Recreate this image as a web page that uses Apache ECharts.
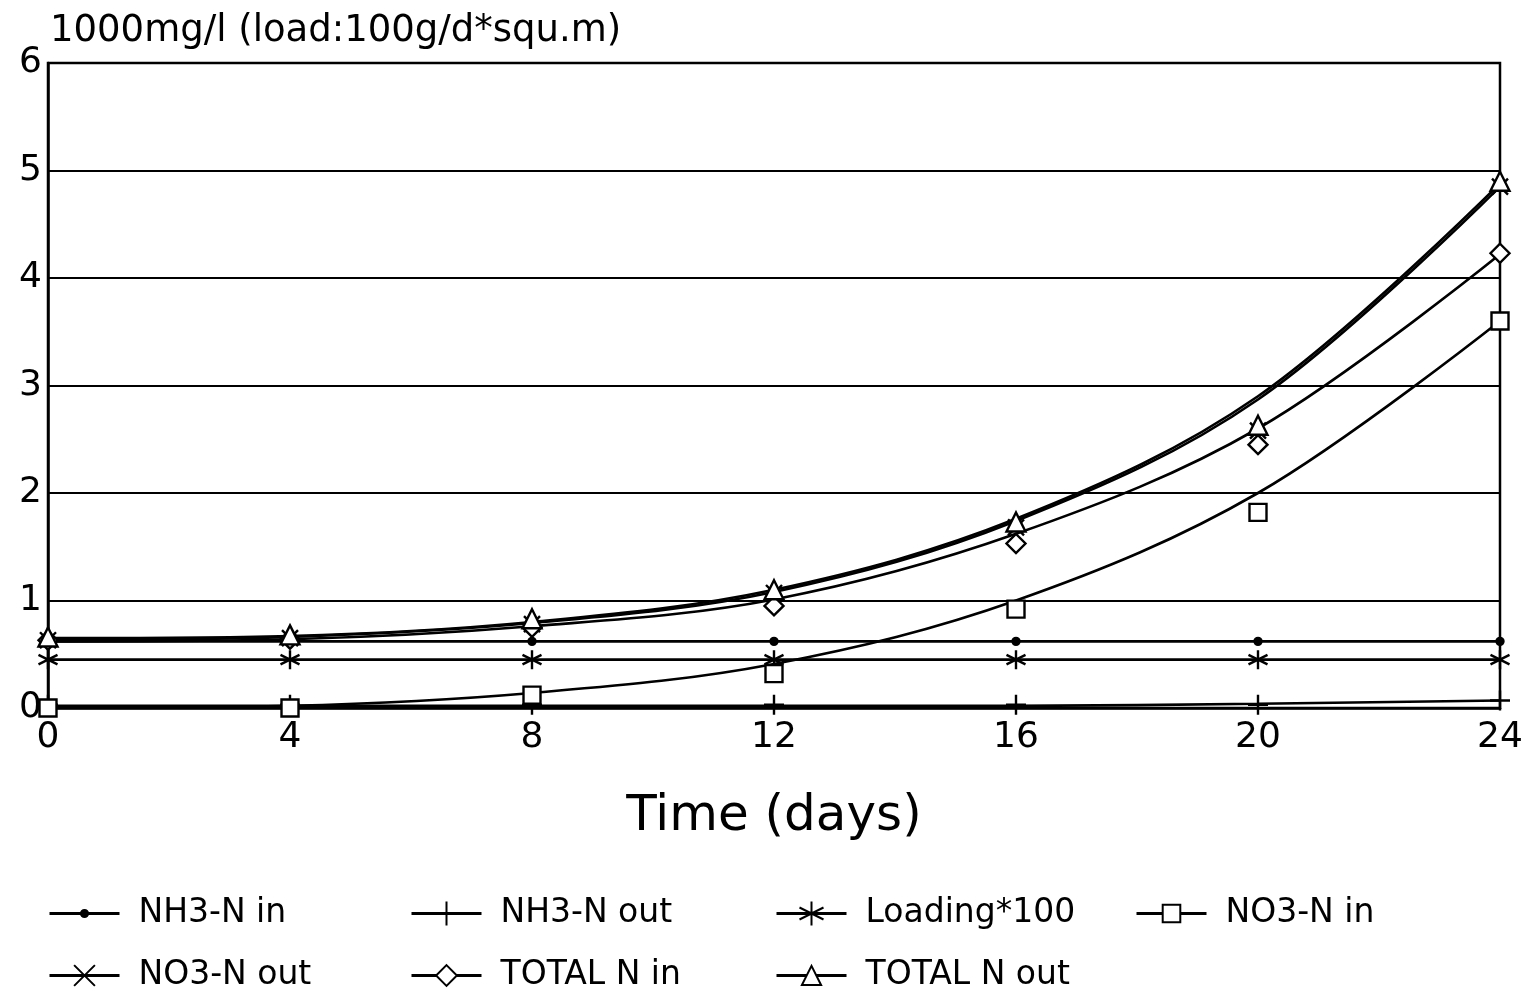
<!DOCTYPE html>
<html>
<head>
<meta charset="utf-8">
<script src="https://cdn.jsdelivr.net/npm/echarts@6/dist/echarts.min.js"></script>
<style>
  html, body { margin: 0; padding: 0; background: #fff; }
  #main { width: 1531px; height: 995px; }
</style>
</head>
<body>
<div id="main"></div>
<script>
const days = [0, 4, 8, 12, 16, 20, 24];
const yTicks = [0, 1, 2, 3, 4, 5, 6];

// measured points (markers)
const nh3In = [0.62, 0.62, 0.62, 0.62, 0.62, 0.62, 0.62];
const nh3Out = [0.03, 0.03, 0.03, 0.03, 0.03, 0.03, 0.07];
const loading = [0.45, 0.45, 0.45, 0.45, 0.45, 0.45, 0.45];
const no3In = [0.0, 0.0, 0.12, 0.32, 0.92, 1.82, 3.6];
const no3Out = [0.63, 0.65, 0.78, 1.07, 1.68, 2.58, 4.85];
const totalIn = [0.63, 0.64, 0.75, 0.95, 1.53, 2.45, 4.23];
const totalOut = [0.66, 0.68, 0.83, 1.1, 1.73, 2.63, 4.9];

// fitted curves
const nh3InFit = [0.62, 0.62, 0.62, 0.62, 0.62, 0.62, 0.62];
const nh3OutFit = [0.02, 0.02, 0.02, 0.02, 0.02, 0.04, 0.07];
const loadingFit = [0.45, 0.45, 0.45, 0.45, 0.45, 0.45, 0.45];
const no3InFit = [0.0, 0.02, 0.14, 0.41, 1.0, 2.0, 3.6];
const no3OutFit = [0.63, 0.66, 0.79, 1.08, 1.74, 2.87, 4.85];
const totalInFit = [0.62, 0.64, 0.76, 1.01, 1.62, 2.6, 4.22];
const totalOutFit = [0.65, 0.67, 0.8, 1.1, 1.76, 2.9, 4.88];

const names = ['NH3-N in', 'NH3-N out', 'Loading*100', 'NO3-N in', 'NO3-N out', 'TOTAL N in', 'TOTAL N out'];

const FONT = 'DejaVu Sans';

const sym = {
  dot: 'circle',
  plus: 'path://M5,0 L5,10 M0,5 L10,5',
  star: 'path://M5,0 L5,10 M0.7,2.5 L9.3,7.5 M0.7,7.5 L9.3,2.5',
  square: 'rect',
  cross: 'path://M0,0 L10,10 M0,10 L10,0',
  diamond: 'path://M5,0 L10,5 L5,10 L0,5 Z',
  triangle: 'path://M5,0 L10,9 L0,9 Z'
};

const groups = [
  { name: names[0], pts: nh3In, fit: nh3InFit, symbol: sym.dot, size: 7, fill: '#000', icon: 9 },
  { name: names[1], pts: nh3Out, fit: nh3OutFit, symbol: sym.plus, size: 20, fill: '#fff', icon: 30 },
  { name: names[2], pts: loading, fit: loadingFit, symbol: sym.star, size: 19, fill: '#fff', icon: 30 },
  { name: names[3], pts: no3In, fit: no3InFit, symbol: sym.square, size: 17, fill: '#fff', icon: 22 },
  { name: names[4], pts: no3Out, fit: no3OutFit, symbol: sym.cross, size: 16, fill: '#fff', icon: 26 },
  { name: names[5], pts: totalIn, fit: totalInFit, symbol: sym.diamond, size: 19, fill: '#fff', icon: 26 },
  { name: names[6], pts: totalOut, fit: totalOutFit, symbol: sym.triangle, size: 19, fill: '#fff', icon: 24 }
];

function pairs(arr) {
  return days.map(function (d, i) { return [d, arr[i]]; });
}

const series = [];
groups.forEach(function (g) {
  series.push({
    name: g.name,
    type: 'line',
    smooth: 0.35,
    data: pairs(g.fit),
    showSymbol: false,
    symbol: g.symbol,
    symbolSize: g.size,
    lineStyle: { color: '#000', width: 2.6 },
    itemStyle: { color: g.fill, borderColor: '#000', borderWidth: 2.4 },
    z: 3
  });
  series.push({
    name: g.name,
    type: 'scatter',
    data: pairs(g.pts),
    symbol: g.symbol,
    symbolSize: g.size,
    itemStyle: { color: g.fill, borderColor: '#000', borderWidth: 2.4, opacity: 1 },
    z: 4
  });
});

const legendPos = [
  [43, 914], [405, 914], [770, 914], [1130, 914],
  [43, 976], [405, 976], [770, 976]
];
const legends = names.map(function (n, i) {
  const h = Math.max(groups[i].icon, 34);
  return {
    data: [n],
    left: legendPos[i][0],
    top: legendPos[i][1] - h / 2 - 5,
    itemWidth: 70,
    itemHeight: groups[i].icon,
    selectedMode: false,
    lineStyle: { width: 3 },
    textStyle: { fontFamily: FONT, fontSize: 33, color: '#000', padding: [0, 0, 0, 14] }
  };
});

const chart = echarts.init(document.getElementById('main'));
chart.setOption({
  backgroundColor: '#fff',
  animation: false,
  title: {
    text: '1000mg/l (load:100g/d*squ.m)',
    left: 45,
    top: 8,
    textStyle: { fontFamily: FONT, fontSize: 37, fontWeight: 'normal', color: '#000' }
  },
  legend: legends,
  grid: {
    left: 48, right: 31, top: 63, bottom: 287,
    show: true, borderColor: '#000', borderWidth: 2.5
  },
  xAxis: {
    type: 'value',
    min: 0, max: 24, interval: 4,
    name: 'Time (days)',
    nameLocation: 'middle',
    nameGap: 84,
    nameTextStyle: { fontFamily: FONT, fontSize: 50, color: '#000' },
    axisLine: { lineStyle: { color: '#000', width: 2.5 } },
    axisTick: { show: false },
    splitLine: { show: false },
    axisLabel: { fontFamily: FONT, fontSize: 36, color: '#000', margin: 12 }
  },
  yAxis: {
    type: 'value',
    min: yTicks[0], max: yTicks[yTicks.length - 1], interval: 1,
    axisLine: { show: true, lineStyle: { color: '#000', width: 2.5 } },
    axisTick: { show: false },
    splitLine: { lineStyle: { color: '#000', width: 2.2 } },
    axisLabel: { fontFamily: FONT, fontSize: 36, color: '#000', margin: 6 }
  },
  series: series
});
</script>
</body>
</html>
